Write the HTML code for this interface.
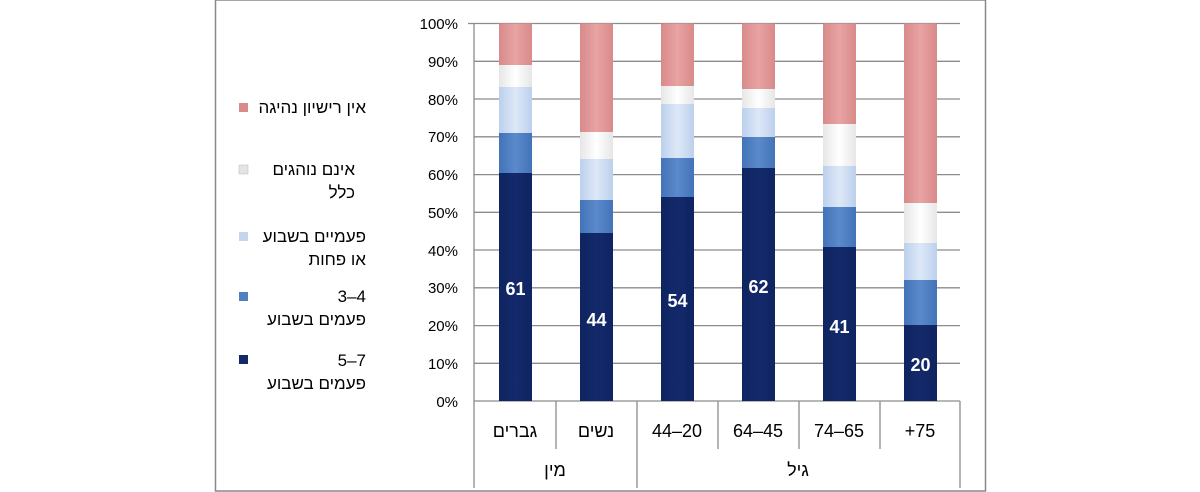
<!DOCTYPE html>
<html><head><meta charset="utf-8"><style>
body{margin:0;background:#fff;}
svg{display:block;font-family:"Liberation Sans","Noto Sans CJK SC",sans-serif;}
</style></head><body>
<svg width="1200" height="492" viewBox="0 0 1200 492" xmlns="http://www.w3.org/2000/svg">
<defs>
<linearGradient id="gP" x1="0" x2="1"><stop offset="0" stop-color="#d98a8a"/><stop offset=".5" stop-color="#e8a3a3"/><stop offset="1" stop-color="#d98a8a"/></linearGradient>
<linearGradient id="gW" x1="0" x2="1"><stop offset="0" stop-color="#e6e6e6"/><stop offset=".5" stop-color="#ffffff"/><stop offset="1" stop-color="#e6e6e6"/></linearGradient>
<linearGradient id="gL" x1="0" x2="1"><stop offset="0" stop-color="#bcd0ec"/><stop offset=".5" stop-color="#dde8f7"/><stop offset="1" stop-color="#bcd0ec"/></linearGradient>
<linearGradient id="gM" x1="0" x2="1"><stop offset="0" stop-color="#4373b8"/><stop offset=".5" stop-color="#5b8acb"/><stop offset="1" stop-color="#4373b8"/></linearGradient>
<linearGradient id="gD" x1="0" x2="1"><stop offset="0" stop-color="#0e2560"/><stop offset=".5" stop-color="#14296b"/><stop offset="1" stop-color="#0e2560"/></linearGradient>
</defs>
<rect x="215.5" y="0" width="770" height="491" fill="#fff" stroke="#888" stroke-width="1.5"/>
<g stroke="#8c8c8c" stroke-width="1.3">
<line x1="474" y1="23.5" x2="960" y2="23.5"/>
<line x1="474" y1="61.3" x2="960" y2="61.3"/>
<line x1="474" y1="99" x2="960" y2="99"/>
<line x1="474" y1="136.8" x2="960" y2="136.8"/>
<line x1="474" y1="174.6" x2="960" y2="174.6"/>
<line x1="474" y1="212.3" x2="960" y2="212.3"/>
<line x1="474" y1="250" x2="960" y2="250"/>
<line x1="474" y1="287.8" x2="960" y2="287.8"/>
<line x1="474" y1="325.6" x2="960" y2="325.6"/>
<line x1="474" y1="363.3" x2="960" y2="363.3"/>
<line x1="474" y1="23" x2="474" y2="401"/>
<line x1="474" y1="401" x2="960" y2="401"/>
<line x1="474" y1="401" x2="474" y2="488"/>
<line x1="637" y1="401" x2="637" y2="488"/>
<line x1="960" y1="401" x2="960" y2="488"/>
<line x1="556" y1="401" x2="556" y2="449"/>
<line x1="718" y1="401" x2="718" y2="449"/>
<line x1="799" y1="401" x2="799" y2="449"/>
<line x1="880" y1="401" x2="880" y2="449"/>
<line x1="468" y1="23.5" x2="474" y2="23.5"/>
</g>
<g font-size="15" fill="#000" text-anchor="end">
<text x="458" y="29">100%</text><text x="458" y="67">90%</text><text x="458" y="105">80%</text><text x="458" y="142">70%</text><text x="458" y="180">60%</text><text x="458" y="218">50%</text><text x="458" y="256">40%</text><text x="458" y="293">30%</text><text x="458" y="331">20%</text><text x="458" y="369">10%</text><text x="458" y="407">0%</text>
</g>
<g id="bars">
<rect x="499" y="23.5" width="33" height="41.5" fill="url(#gP)"/><rect x="499" y="65" width="33" height="22" fill="url(#gW)"/><rect x="499" y="87" width="33" height="46" fill="url(#gL)"/><rect x="499" y="133" width="33" height="40" fill="url(#gM)"/><rect x="499" y="173" width="33" height="228" fill="url(#gD)"/>
<rect x="580" y="23.5" width="33" height="108.5" fill="url(#gP)"/><rect x="580" y="132" width="33" height="27" fill="url(#gW)"/><rect x="580" y="159" width="33" height="41" fill="url(#gL)"/><rect x="580" y="200" width="33" height="33" fill="url(#gM)"/><rect x="580" y="233" width="33" height="168" fill="url(#gD)"/>
<rect x="661" y="23.5" width="33" height="62.5" fill="url(#gP)"/><rect x="661" y="86" width="33" height="18" fill="url(#gW)"/><rect x="661" y="104" width="33" height="54" fill="url(#gL)"/><rect x="661" y="158" width="33" height="39" fill="url(#gM)"/><rect x="661" y="197" width="33" height="204" fill="url(#gD)"/>
<rect x="742" y="23.5" width="33" height="65.5" fill="url(#gP)"/><rect x="742" y="89" width="33" height="19" fill="url(#gW)"/><rect x="742" y="108" width="33" height="29" fill="url(#gL)"/><rect x="742" y="137" width="33" height="31" fill="url(#gM)"/><rect x="742" y="168" width="33" height="233" fill="url(#gD)"/>
<rect x="823" y="23.5" width="33" height="100.5" fill="url(#gP)"/><rect x="823" y="124" width="33" height="42" fill="url(#gW)"/><rect x="823" y="166" width="33" height="41" fill="url(#gL)"/><rect x="823" y="207" width="33" height="40" fill="url(#gM)"/><rect x="823" y="247" width="33" height="154" fill="url(#gD)"/>
<rect x="904" y="23.5" width="33" height="179.5" fill="url(#gP)"/><rect x="904" y="203" width="33" height="40" fill="url(#gW)"/><rect x="904" y="243" width="33" height="37" fill="url(#gL)"/><rect x="904" y="280" width="33" height="45" fill="url(#gM)"/><rect x="904" y="325" width="33" height="76" fill="url(#gD)"/>
</g>
<g font-size="18" font-weight="bold" fill="#fff" text-anchor="middle">
<text x="515.5" y="295">61</text><text x="596.5" y="326">44</text><text x="677.5" y="307">54</text><text x="758.5" y="293">62</text><text x="839.5" y="333">41</text><text x="920.5" y="371">20</text>
</g>
<g font-size="18" fill="#000" text-anchor="middle">
<text x="515" y="437">גברים</text><text x="596" y="437">נשים</text>
<text x="677" y="437">44–20</text><text x="758" y="437">64–45</text><text x="839" y="437">74–65</text><text x="920" y="437">+75</text>
<text x="555" y="476">מין</text><text x="798" y="476">גיל</text>
</g>
<g font-size="17" fill="#000" text-anchor="end">
<rect x="239" y="103" width="9" height="9" fill="#d98a8a"/>
<text x="366" y="113">אין רישיון נהיגה</text>
<rect x="239" y="165" width="9" height="9" fill="#e4e4e4" stroke="#bbb" stroke-width=".5"/>
<text x="355" y="175">אינם נוהגים</text><text x="355" y="198">כלל</text>
<rect x="239" y="232" width="9" height="9" fill="#c4d5ee"/>
<text x="366" y="242">פעמיים בשבוע</text><text x="366" y="265">או פחות</text>
<rect x="239" y="292" width="9" height="9" fill="#4f80c2"/>
<text x="366" y="302">3–4</text><text x="366" y="325">פעמים בשבוע</text>
<rect x="239" y="355" width="9" height="9" fill="#14296b"/>
<text x="366" y="366">5–7</text><text x="366" y="389">פעמים בשבוע</text>
</g>
</svg>
</body></html>
